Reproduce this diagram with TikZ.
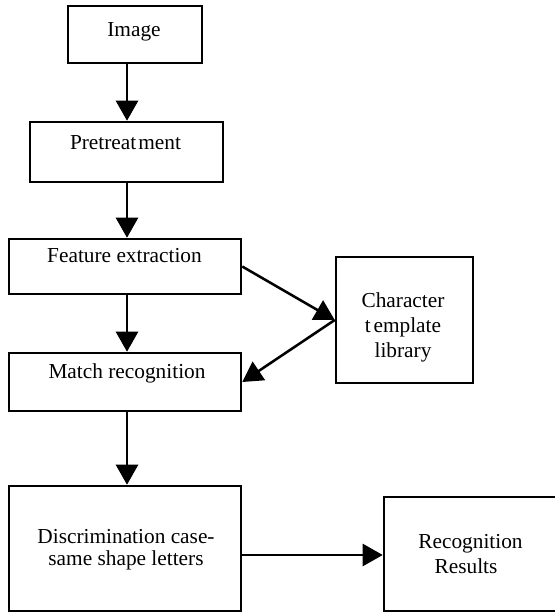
\documentclass[tikz,border=0pt]{standalone}
\usepackage{fontspec}
\setmainfont{Liberation Serif}
\usetikzlibrary{arrows.meta,fit}
\begin{document}
\begin{tikzpicture}[x=0.75pt,y=-0.75pt,
  box/.style={draw=black,line width=1.9pt,inner sep=0pt,fill=none},
  txt/.style={anchor=base,inner sep=0pt,font=\fontsize{16}{19}\selectfont},
  arr/.style={draw=black,line width=1.9pt,-{Triangle[length=15pt,width=16.5pt]}}]
\useasboundingbox (0,0) rectangle (555,613);
\fill[white] (0,0) rectangle (555,613);
% boxes
\node[box,fit={(68,6) (202,63)}] (img) {};
\node[box,fit={(30,122) (223,182)}] (pre) {};
\node[box,fit={(9,239) (241,294)}] (fe) {};
\node[box,fit={(9,353) (241,411)}] (mr) {};
\node[box,fit={(336,257) (473,383)}] (ch) {};
\node[box,fit={(9,486) (241,611)}] (dis) {};
\node[box,fit={(384,497) (558,611)}] (rec) {};
% texts
\node[txt] (timg) at (134,36.5) {Image};
\node[txt] (tpre) at (125.5,150) {Pretreat\kern1.5pt ment};
\node[txt] (tfe) at (124.5,262.5) {Feature extraction};
\node[txt] (tmr) at (127,378) {Match recognition};
\node[txt] (tch1) at (403,307) {Character};
\node[txt] (tch2) at (403,332) {t\kern2pt emplate};
\node[txt] (tch3) at (403,357) {library};
\node[txt] (tdis1) at (126,543) {Discrimination case-};
\node[txt] (tdis2) at (126,565) {same shape letters};
\node[txt] (trec1) at (470.5,548) {Recognition};
\node[txt] (trec2) at (466,573) {Results};
% arrows
\coordinate (ax) at (127,0);
\draw[arr] (img.south -| ax) -- (pre.north -| ax);
\draw[arr] (pre.south -| ax) -- (fe.north -| ax);
\draw[arr] (fe.south -| ax) -- (mr.north -| ax);
\draw[arr] (mr.south -| ax) -- (dis.north -| ax);
\draw[arr] (fe.east) -- (ch.west);
\draw[arr] (ch.west) -- (mr.east);
\coordinate (hy) at (0,555);
\draw[arr] (dis.east |- hy) -- (rec.west |- hy);
\end{tikzpicture}
\end{document}
